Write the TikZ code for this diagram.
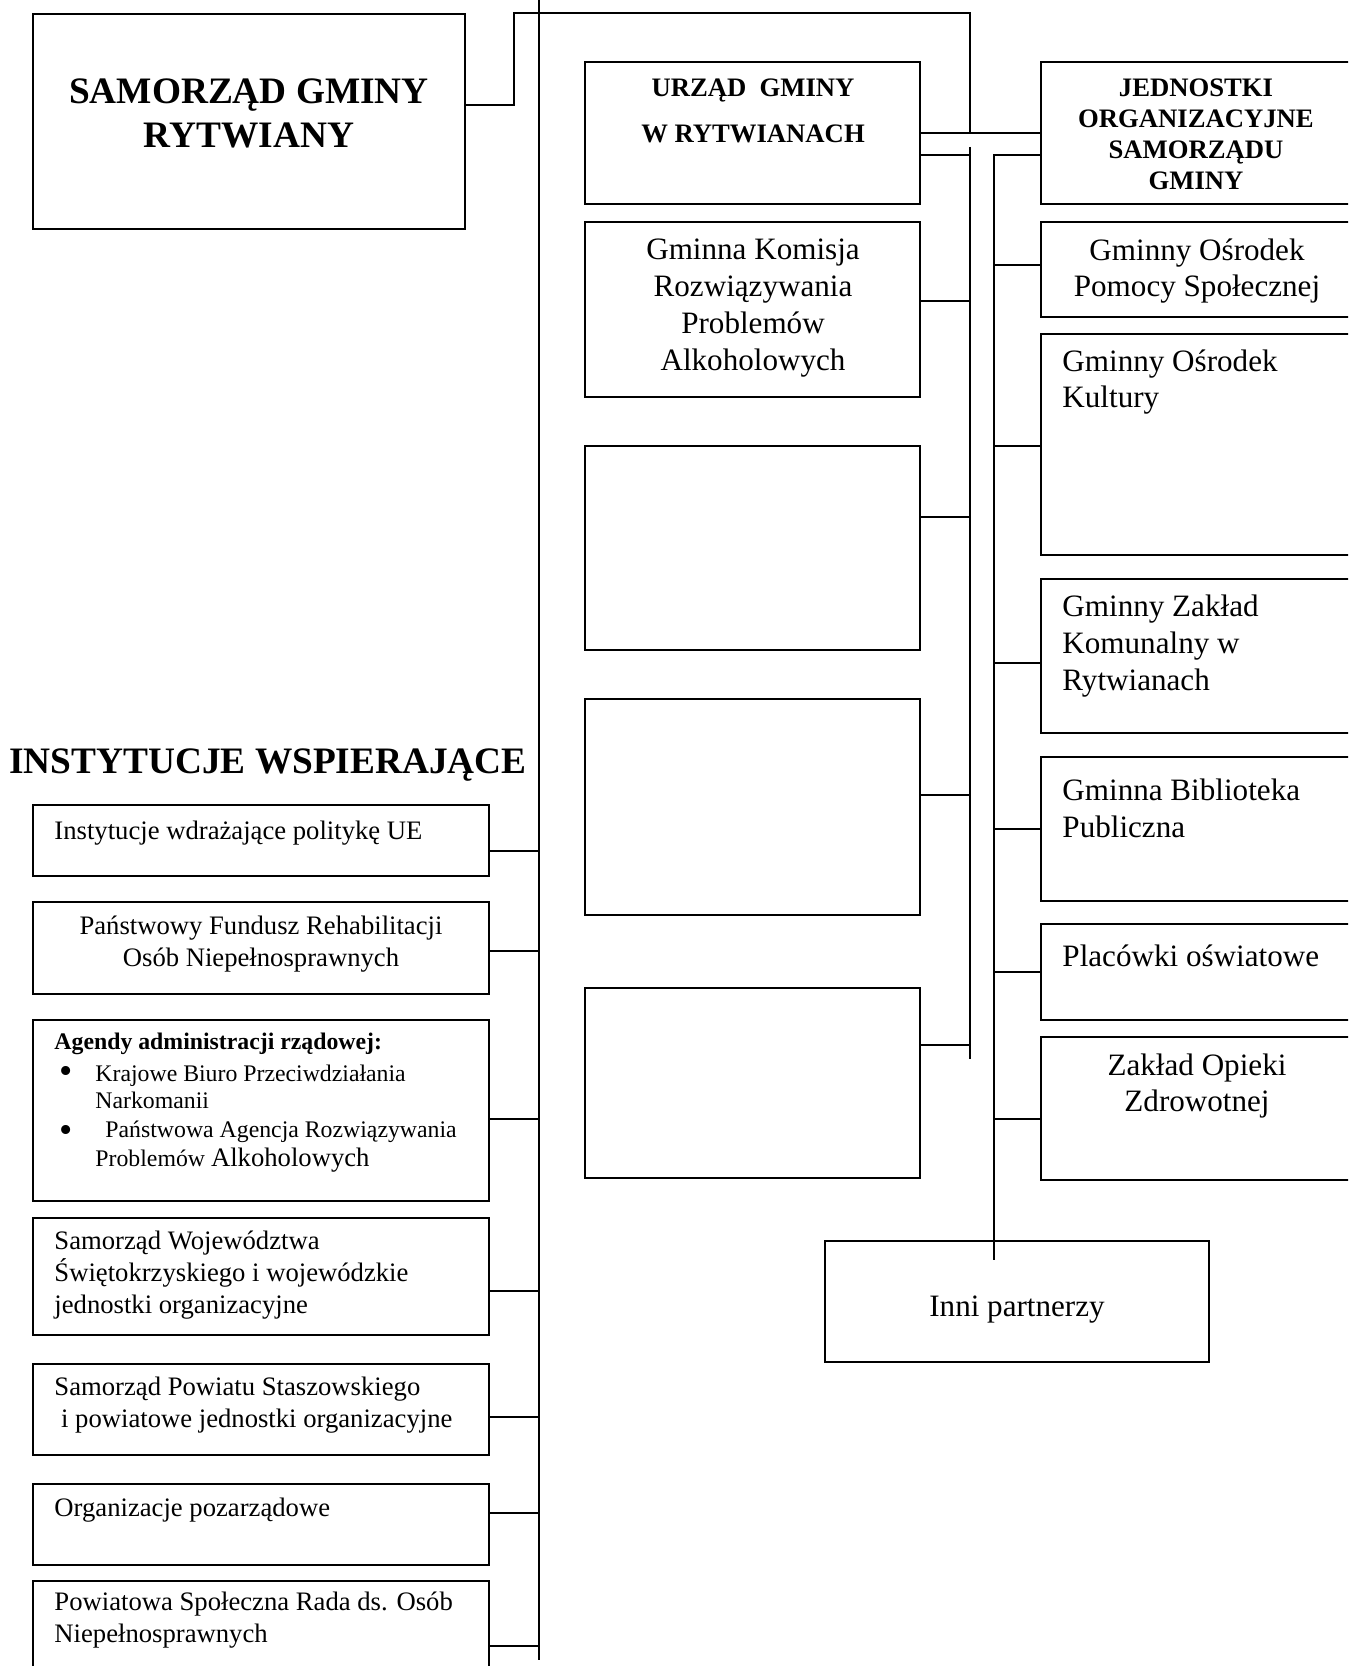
\documentclass[tikz,border=0pt]{standalone}
\usepackage{fontspec}
\setmainfont{Liberation Serif}
\usepackage{tikz}
\usetikzlibrary{positioning,fit}

\tikzset{
	box/.style={draw,line width=0.8pt,inner sep=0pt},
	conn/.style={line width=0.55pt},
	txt/.style={inner sep=0pt,align=left},
	txtc/.style={inner sep=0pt,align=center},
	bigfont/.style={font=\bfseries\fontsize{16.8}{19.8}\selectfont},
	headfont/.style={font=\bfseries\fontsize{12}{14}\selectfont},
	midfont/.style={font=\fontsize{14}{16.6}\selectfont},
	leftfont/.style={font=\fontsize{12}{14.4}\selectfont},
	agfont/.style={font=\fontsize{10.7}{12.2}\selectfont},
	bulfont/.style={font=\fontsize{17}{17}\selectfont},
}

\begin{document}
\begin{tikzpicture}[x=0.45pt,y=-0.45pt]
	\useasboundingbox (0,0) rectangle (1348,1666);
	\clip (0,0) rectangle (1348,1666);
	
	% trunk lines
	\coordinate (trunkL) at (539,0);
	\coordinate (trunkLend) at (539,1660);
	\coordinate (trunkM) at (970,147);
	\coordinate (trunkMend) at (970,1059);
	\coordinate (trunkR) at (994,155);
	\coordinate (trunkRend) at (994,1260);
	\coordinate (elbow) at (514,13);
	\coordinate (topend) at (970,13);
	
	% top row
	\node[box,fit={(33,14) (465,229)}] (sam) {};
	\node[txtc,bigfont] (samtxt) at (249,113) {SAMORZĄD GMINY\\RYTWIANY};
	
	\node[box,fit={(585,62) (920,204)}] (urz) {};
	\node[txtc,font=\bfseries\fontsize{12}{21}\selectfont] (urztxt) at (753,111) {URZĄD~~GMINY\\W RYTWIANACH};
	
	\node[box,fit={(1041,62) (1400,204)}] (jed) {};
	\node[txtc,headfont] (jedtxt) at (1196,134) {JEDNOSTKI\\ORGANIZACYJNE\\SAMORZĄDU\\GMINY};
	
	% middle column
	\node[box,fit={(585,222) (920,397)}] (kom) {};
	\node[txtc,midfont] (komtxt) at (753,308) {Gminna Komisja\\Rozwiązywania\\Problemów\\Alkoholowych};
	\node[box,fit={(585,446) (920,650)}] (e1) {};
	\node[box,fit={(585,699) (920,915)}] (e2) {};
	\node[box,fit={(585,988) (920,1178)}] (e3) {};
	
	% right column
	\node[box,fit={(1041,222) (1400,317)}] (gops) {};
	\node[txtc,midfont] (gopstxt) at (1197,271) {Gminny Ośrodek\\Pomocy Społecznej};
	\node[box,fit={(1041,334) (1400,555)}] (gok) {};
	\node[txt,midfont,anchor=west] (goktxt) at (1062,382) {Gminny Ośrodek\\Kultury};
	\node[box,fit={(1041,579) (1400,733)}] (gzk) {};
	\node[txt,midfont,anchor=west] (gzktxt) at (1062,646) {Gminny Zakład\\Komunalny w\\Rytwianach};
	\node[box,fit={(1041,757) (1400,901)}] (gbp) {};
	\node[txt,midfont,anchor=west] (gbptxt) at (1062,808) {Gminna Biblioteka\\Publiczna};
	\node[box,fit={(1041,924) (1400,1020)}] (plac) {};
	\node[txt,midfont,anchor=west] (plactxt) at (1062,956) {Placówki oświatowe};
	\node[box,fit={(1041,1037) (1400,1180)}] (zoz) {};
	\node[txtc,midfont] (zoztxt) at (1197,1086) {Zakład Opieki\\Zdrowotnej};
	
	\node[box,fit={(825,1241) (1209,1362)}] (inni) {};
	\node[txtc,midfont] (innitxt) at (1017,1310) {Inni partnerzy};
	
	% left column
	\node[txtc,bigfont] (title) at (268,765) {INSTYTUCJE WSPIERAJĄCE};
	
	\node[box,fit={(33,805) (489,876)}] (b1) {};
	\node[txt,leftfont,anchor=west] (b1txt) at (54,833) {Instytucje wdrażające politykę UE};
	\node[box,fit={(33,902) (489,994)}] (b2) {};
	\node[txtc,leftfont] (b2txt) at (261,944) {Państwowy Fundusz Rehabilitacji\\Osób Niepełnosprawnych};
	\node[box,fit={(33,1020) (489,1201)}] (b3) {};
	\node[txt,agfont,anchor=west] (b3head) at (54,1044) {\textbf{Agendy administracji rządowej:}};
	\node[txt,bulfont] (bul1) at (66,1075) {\textbullet};
	\node[txt,agfont,anchor=west] (b3a) at (95,1087) {Krajowe Biuro Przeciwdziałania\\Narkomanii};
	\node[txt,bulfont] (bul2) at (66,1134) {\textbullet};
	\node[txt,font=\fontsize{10.7}{13}\selectfont,anchor=west] (b3b) at (95,1147) {\hspace*{4.5pt}Państwowa Agencja Rozwiązywania\\Problemów {\fontsize{12}{13}\selectfont Alkoholowych}};
	\node[box,fit={(33,1218) (489,1335)}] (b4) {};
	\node[txt,leftfont,anchor=west] (b4txt) at (54,1275) {Samorząd Województwa\\Świętokrzyskiego i wojewódzkie\\jednostki organizacyjne};
	\node[box,fit={(33,1364) (489,1455)}] (b5) {};
	\node[txt,leftfont,anchor=west] (b5txt) at (54,1405) {Samorząd Powiatu Staszowskiego\\\hspace*{3pt}i powiatowe jednostki organizacyjne};
	\node[box,fit={(33,1484) (489,1565)}] (b6) {};
	\node[txt,leftfont,anchor=west] (b6txt) at (54,1510) {Organizacje pozarządowe};
	\node[box,fit={(33,1581) (489,1720)}] (b7) {};
	\node[txt,leftfont,anchor=west] (b7txt) at (54,1620) {Powiatowa Społeczna Rada ds. Osób\\Niepełnosprawnych};
	
	% main links
	\draw[conn] (trunkL) -- (trunkLend);
	\draw[conn] (sam.east |- 0,105) -| (elbow) -- (topend) -- (topend |- 0,133);
	\draw[conn] (urz.east |- 0,133) -- (jed.west |- 0,133);
	\draw[conn] (urz.east |- 0,155) -- (trunkM |- 0,155);
	\draw[conn] (trunkM) -- (trunkMend);
	\draw[conn] (jed.west |- 0,155) -- (trunkR) -- (trunkRend);
	
	% branches of the middle column
	\draw[conn] (kom.east |- 0,301) -- (trunkM |- 0,301);
	\draw[conn] (e1.east |- 0,517) -- (trunkM |- 0,517);
	\draw[conn] (e2.east |- 0,795) -- (trunkM |- 0,795);
	\draw[conn] (e3.east |- 0,1045) -- (trunkM |- 0,1045);
	
	% branches of the right column
	\draw[conn] (trunkR |- 0,265) -- (gops.west |- 0,265);
	\draw[conn] (trunkR |- 0,446) -- (gok.west |- 0,446);
	\draw[conn] (trunkR |- 0,663) -- (gzk.west |- 0,663);
	\draw[conn] (trunkR |- 0,829) -- (gbp.west |- 0,829);
	\draw[conn] (trunkR |- 0,972) -- (plac.west |- 0,972);
	\draw[conn] (trunkR |- 0,1119) -- (zoz.west |- 0,1119);
	
	% branches of the left column
	\draw[conn] (b1.east |- 0,851) -- (trunkL |- 0,851);
	\draw[conn] (b2.east |- 0,951) -- (trunkL |- 0,951);
	\draw[conn] (b3.east |- 0,1119) -- (trunkL |- 0,1119);
	\draw[conn] (b4.east |- 0,1291) -- (trunkL |- 0,1291);
	\draw[conn] (b5.east |- 0,1417) -- (trunkL |- 0,1417);
	\draw[conn] (b6.east |- 0,1513) -- (trunkL |- 0,1513);
	\draw[conn] (b7.east |- 0,1646) -- (trunkL |- 0,1646);
\end{tikzpicture}
\end{document}
